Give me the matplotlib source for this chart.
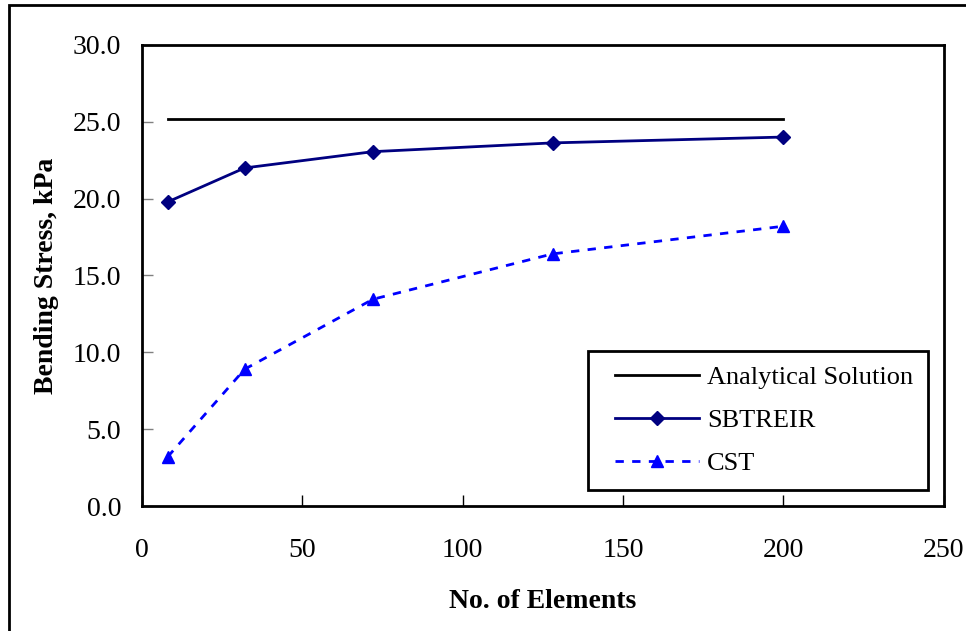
import matplotlib.pyplot as plt
from matplotlib.patches import Rectangle
from matplotlib.legend_handler import HandlerLine2D

# mesh sizes and bending stress results
n_elements = [8, 32, 72, 128, 200]
analytical = [25.2, 25.2, 25.2, 25.2, 25.2]
sbtreir = [19.78, 21.99, 23.05, 23.62, 24.0]
cst = [3.2, 8.9, 13.45, 16.4, 18.2]

xticks = [0, 50, 100, 150, 200, 250]
yticks = [0.0, 5.0, 10.0, 15.0, 20.0, 25.0, 30.0]


class IndentedLine(HandlerLine2D):
    # legend line that starts a bit in from the frame
    def create_artists(self, legend, orig_handle, xdescent, ydescent,
                       width, height, fontsize, trans):
        shift = 0.45 * fontsize
        return super().create_artists(legend, orig_handle, xdescent - shift,
                                      ydescent, width - shift, height,
                                      fontsize, trans)


plt.rcParams['font.family'] = ['Liberation Serif', 'DejaVu Serif']

fig = plt.figure(figsize=(9.66, 6.31), dpi=100)
ax = fig.add_axes([0.147, 0.198, 0.830, 0.731])

ax.plot(n_elements, analytical, color='black', lw=2, label='Analytical Solution')
ax.plot(n_elements, sbtreir, color='#000080', lw=2, marker='D', ms=7,
        label='SBTREIR')
ax.plot(n_elements, cst, color='#0000ff', lw=2, ls=(0, (3, 3)), marker='^', ms=9,
        label='CST')

ax.set_xlim(0, 250)
ax.set_ylim(0, 30)
ax.set_xticks(xticks)
ax.set_yticks(yticks)
ax.set_yticklabels([f'{v:.1f}' for v in yticks])
ax.tick_params(axis='both', direction='in', length=8, width=1, labelsize=20)
ax.tick_params(axis='x', pad=23)
ax.tick_params(axis='y', pad=15, color='#808080')
for s in ax.spines.values():
    s.set_linewidth(2)

ax.set_xlabel('No. of Elements', fontsize=20, fontweight='bold', labelpad=19)
ax.set_ylabel('Bending Stress, kPa', fontsize=20, fontweight='bold', labelpad=10)

leg = ax.legend(loc='lower right', bbox_to_anchor=(0.98, 0.035), fontsize=19,
                frameon=True, fancybox=False, edgecolor='black', framealpha=1,
                numpoints=1, handlelength=3.65, labelspacing=0.75, borderpad=0.55,
                handletextpad=0.3, borderaxespad=0,
                handler_map={plt.Line2D: IndentedLine()})
leg.get_frame().set_linewidth(2)

# outer frame around the chart
fig.patches.append(Rectangle((0.009, -0.01), 1.0, 1.002, transform=fig.transFigure,
                             fill=False, edgecolor='black', lw=2))

fig.savefig('out.png', dpi=100)
